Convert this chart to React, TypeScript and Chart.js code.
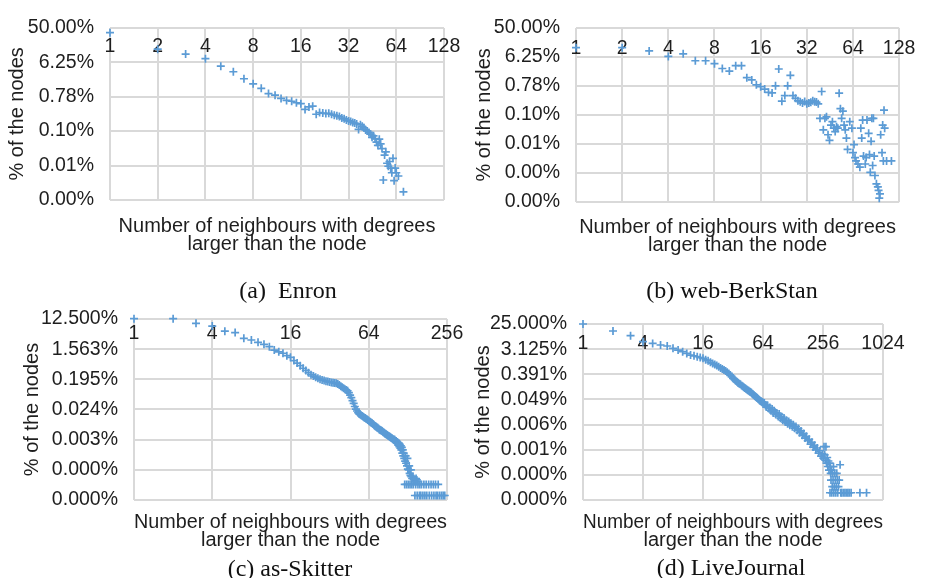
import React, { useEffect, useRef } from "react";
import { Chart, registerables } from "chart.js";

Chart.register(...registerables);

// ---------------- data ----------------
// (a) Enron
const ENRON_X = [1,2,3,4,5,6,7,8,9,10,11,12,13,14,15,16,17,18,19,20,21,22,23,24,25,26,27,28,29,30,31,32,33,34,35,36,37,38,39,40,41,42,43,44,45,46,47,48,49,50,51,52,53,54,55,56,57,58,59,60,61,62,63,64,66,71];
const ENRON_Y = [37,13.7,10.2,7.7,4.9,3.5,2.3,1.69,1.29,0.94,0.85,0.7,0.62,0.59,0.54,0.51,0.36,0.42,0.44,0.27,0.3,0.29,0.28,0.285,0.27,0.255,0.245,0.235,0.215,0.205,0.19,0.18,0.175,0.165,0.159,0.15,0.108,0.144,0.13,0.119,0.105,0.098,0.09,0.081,0.067,0.0735,0.062,0.05,0.041,0.06,0.045,0.034,0.0051,0.023,0.028,0.014,0.0117,0.0156,0.0105,0.0079,0.0189,0.0049,0.0105,0.0079,0.0065,0.0025];

// (b) web-BerkStan
const BERK_X = [1,2,3,4,5,6,7,8,9,10,11,12,13,14,15,16,17,18,19,20,21,22,23,24,25,26,27,28,29,30,31,32,33,34,35,36,37,38,39,40,41,42,43,44,45,46,47,48,49,50,51,52,53,54,55,56,57,58,59,61,63,64,65,66,67,69,71,72,73,74,75,77,78,79,81,82,83,84,85,86,87,88,89,91,93,94,95,96,97,99,100,101,102,103,106,114];
const BERK_Y = [12,12,9.5,6.4,7.7,4.7,4.7,3.8,2.7,2.24,3.3,3.3,1.4,1.19,0.84,0.73,0.62,0.49,0.47,0.78,2.6,0.26,0.387,0.78,1.65,0.387,0.32,0.27,0.25,0.227,0.254,0.215,0.227,0.24,0.27,0.25,0.243,0.215,0.076,0.52,0.0334,0.076,0.085,0.0235,0.0158,0.047,0.06,0.0376,0.0296,0.042,0.0376,0.46,0.152,0.076,0.127,0.047,0.0334,0.0185,0.0082,0.06,0.0376,0.0065,0.0116,0.0046,0.0036,0.0029,0.0023,0.0376,0.0185,0.067,0.0051,0.0029,0.0046,0.067,0.026,0.0057,0.0016,0.0147,0.076,0.0026,0.076,0.0051,0.00127,0.0007,0.00056,0.00044,0.00025,0.00034,0.0235,0.0065,0.047,0.0036,0.136,0.0376,0.0036,0.0036];

// (c) as-Skitter
const SKIT_X = [1,2,3,4,5,6,7,8,9,10,11,12,13,14,15,16,17,18,19,20,21,22,23,24,25,26,27,28,29,30,31,32,33,34,35,36,37,38,39,40,41,42,43,44,45,46,47,48,49,50,51,52,53,54,55,56,57,58,59,60,61,62,63,64,65,66,67,68,69,70,71,72,73,74,75,76,77,78,79,80,81,82,83,84,85,86,87,88,89,90,91,92,93,94,95,96,97,98,99,100,101,102,103,104,105,106,107,108,109,110,111,112,113,114,115,116,117,118,119,120,121,122,123,124,125,126,127,128,129,130,131,132,133,134,135,136,137,138,140,141,142,144,145,146,147,148,150,151,152,153,157,158,161,163,167,170,173,177,179,185,187,193,195,201,203,209,211,217,219,225,233,240,246];
const SKIT_Y = [12.8,12.8,9.3,7.7,5.4,4.9,3.3,2.94,2.5,2.18,1.85,1.47,1.3,1.18,1.0,0.89,0.71,0.6,0.5,0.42,0.36,0.31,0.27,0.245,0.226,0.21,0.195,0.187,0.18,0.172,0.167,0.162,0.158,0.155,0.152,0.149,0.141,0.132,0.122,0.113,0.106,0.099,0.094,0.089,0.078,0.066,0.055,0.045,0.037,0.03,0.025,0.022,0.0195,0.018,0.0172,0.0163,0.0155,0.0148,0.014,0.0135,0.0128,0.0124,0.0118,0.0113,0.0107,0.0104,0.0098,0.0094,0.009,0.0086,0.0079,0.0077,0.0074,0.0071,0.0069,0.0066,0.0062,0.006,0.0058,0.0057,0.0055,0.0053,0.0051,0.0049,0.0047,0.0046,0.0044,0.0043,0.0042,0.004,0.0039,0.0038,0.0037,0.0036,0.0035,0.0034,0.0033,0.0032,0.0031,0.003,0.0031,0.0029,0.0027,0.0028,0.0025,0.0026,0.0023,0.0021,0.0024,0.0019,0.0022,0.0017,0.002,0.0015,0.0018,0.0012,0.0015,0.001,0.0012,0.00084,0.00014,0.0007,0.001,0.0006,0.00014,0.0005,0.00084,0.0004,0.00014,0.00038,0.0005,0.0003,0.00014,0.00026,0.00038,0.00024,0.00014,0.00021,0.00024,0.00014,0.0002,0.00019,0.000065,0.00017,0.00014,0.00021,0.00019,0.000065,0.00017,0.00014,0.000065,0.00014,0.000065,0.00014,0.000065,0.00014,0.000065,0.00014,0.000065,0.00014,0.000065,0.00014,0.000065,0.00014,0.000065,0.00014,0.000065,0.000065,0.00014,0.000065,0.000065,0.000065,0.000065];

// (d) LiveJournal
const LJ_X = [1,2,3,4,5,6,7,8,9,10,11,12,13,14,15,16,17,18,19,20,21,22,23,24,25,26,27,28,29,30,31,32,33,34,35,36,37,38,39,40,41,42,43,44,45,46,47,48,49,50,51,52,53,54,55,56,57,58,59,60,61,62,63,64,66,68,69,71,73,75,77,79,81,83,86,88,91,93,96,98,101,104,107,110,113,116,119,122,126,129,133,137,141,145,149,154,159,164,169,174,180,186,192,198,204,210,217,224,231,238,245,252,258,262,266,270,274,278,282,286,290,294,298,301,304,306,308,311,314,317,320,323,326,329,332,336,340,344,348,352,356,360,366,372,380,386,395,410,425,440,455,470,490,601,700];
const LJ_Y = [25,14,9.5,5.8,5.0,4.4,4.05,3.35,2.9,2.54,2.2,1.92,1.8,1.67,1.55,1.46,1.3,1.2,1.05,0.96,0.88,0.8,0.73,0.66,0.61,0.56,0.51,0.46,0.42,0.37,0.32,0.28,0.26,0.23,0.21,0.19,0.18,0.17,0.155,0.145,0.135,0.125,0.117,0.11,0.105,0.1,0.095,0.09,0.084,0.078,0.073,0.069,0.065,0.061,0.058,0.055,0.052,0.049,0.046,0.043,0.042,0.04,0.039,0.038,0.036,0.03,0.026,0.03,0.023,0.025,0.019,0.022,0.016,0.019,0.014,0.016,0.012,0.0145,0.0102,0.012,0.0087,0.0105,0.0075,0.0088,0.0066,0.0078,0.0058,0.0068,0.0051,0.006,0.0045,0.0052,0.0038,0.0044,0.0031,0.0036,0.0025,0.0029,0.002,0.0023,0.0016,0.0018,0.0012,0.0014,0.00095,0.0011,0.00075,0.00088,0.00058,0.0007,0.00045,0.00055,0.00038,0.00098,0.0005,0.00032,0.00098,0.00025,0.0004,0.00019,0.0003,0.00014,0.00025,0.0000217,0.00019,0.000108,0.000062,0.00014,0.0000217,0.000036,0.000108,0.000062,0.000187,0.0000217,0.000036,0.000108,0.000062,0.0000217,0.000036,0.000108,0.000062,0.0000217,0.000036,0.000062,0.00022,0.0000217,0.0000217,0.0000217,0.0000217,0.0000217,0.0000217,0.0000217,0.0000217,0.0000217,0.0000217];

// ---------------- ticks ----------------
const X_TICKS_AB = [1, 2, 4, 8, 16, 32, 64, 128];
const X_LABELS_AB = ["1", "2", "4", "8", "16", "32", "64", "128"];
const X_TICKS_C = [1, 4, 16, 64, 256];
const X_LABELS_C = ["1", "4", "16", "64", "256"];
const X_TICKS_D = [1, 4, 16, 64, 256, 1024];
const X_LABELS_D = ["1", "4", "16", "64", "256", "1024"];

const Y_TICKS_A = [50, 6.25, 0.78125, 0.09765625, 0.01220703125, 0.00152587890625];
const Y_LABELS_A = ["50.00%", "6.25%", "0.78%", "0.10%", "0.01%", "0.00%"];
const Y_TICKS_B = [50, 6.25, 0.78125, 0.09765625, 0.01220703125, 0.00152587890625, 0.000190734863];
const Y_LABELS_B = ["50.00%", "6.25%", "0.78%", "0.10%", "0.01%", "0.00%", "0.00%"];
const Y_TICKS_C = [12.5, 1.5625, 0.1953125, 0.0244140625, 0.0030517578, 0.0003814697, 0.0000476837];
const Y_LABELS_C = ["12.500%", "1.563%", "0.195%", "0.024%", "0.003%", "0.000%", "0.000%"];
const Y_TICKS_D = [25, 3.125, 0.390625, 0.048828125, 0.0061035156, 0.0007629395, 0.0000953674, 0.0000119209];
const Y_LABELS_D = ["25.000%", "3.125%", "0.391%", "0.049%", "0.006%", "0.001%", "0.000%", "0.000%"];

const X_TITLE = ["Number of neighbours with degrees", "larger than the node"];
const Y_TITLE = "% of the nodes";
const CAPTIONS = ["(a)  Enron", "(b) web-BerkStan", "(c) as-Skitter", "(d) LiveJournal"];

// ---------------- style / layout ----------------
const W = 925;
const H = 578;
const BLUE = "#5b9bd5";
const GRID = "#d9d9d9";
const TEXT = "#1e1e1e";
const SANS = "'Liberation Sans', Arial, Helvetica, sans-serif";
const SERIF = "'Liberation Serif', 'Times New Roman', serif";

type PanelCfg = {
  xs: number[];
  ys: number[];
  xTicks: number[];
  xLabels: string[];
  yTicks: number[];
  yLabels: string[];
  box: { l: number; t: number; r: number; b: number };
  yAxisW: number;
  xPad: number;
  xTitleH: number;
};

const PANELS: PanelCfg[] = [
  { xs: ENRON_X, ys: ENRON_Y, xTicks: X_TICKS_AB, xLabels: X_LABELS_AB, yTicks: Y_TICKS_A, yLabels: Y_LABELS_A, box: { l: 110, t: 21, r: 444, b: 200 }, yAxisW: 104, xPad: 7.6, xTitleH: 54 },
  { xs: BERK_X, ys: BERK_Y, xTicks: X_TICKS_AB, xLabels: X_LABELS_AB, yTicks: Y_TICKS_B, yLabels: Y_LABELS_B, box: { l: 576, t: 24, r: 906, b: 202 }, yAxisW: 103, xPad: 9.6, xTitleH: 53 },
  { xs: SKIT_X, ys: SKIT_Y, xTicks: X_TICKS_C, xLabels: X_LABELS_C, yTicks: Y_TICKS_C, yLabels: Y_LABELS_C, box: { l: 134, t: 319, r: 447, b: 500 }, yAxisW: 113, xPad: 2.6, xTitleH: 50 },
  { xs: LJ_X, ys: LJ_Y, xTicks: X_TICKS_D, xLabels: X_LABELS_D, yTicks: Y_TICKS_D, yLabels: Y_LABELS_D, box: { l: 583, t: 324, r: 883, b: 500 }, yAxisW: 111, xPad: 7.6, xTitleH: 50 },
];

const CAPTION_POS = [
  { x: 288, y: 290 },
  { x: 732, y: 290 },
  { x: 290, y: 568 },
  { x: 731, y: 567 },
];

const TOP_H = 10;

function PanelChart({ cfg }: { cfg: PanelCfg }) {
  const ref = useRef<HTMLCanvasElement | null>(null);
  useEffect(() => {
    const canvas = ref.current;
    if (!canvas) return;
    const { box } = cfg;
    const tickFont = { family: SANS, size: 19.5 };
    const chart = new Chart(canvas, {
      type: "scatter",
      data: {
        datasets: [
          {
            data: cfg.xs.map((x, i) => ({ x, y: cfg.ys[i] })),
            pointStyle: "cross",
            pointRadius: 4,
            pointBorderWidth: 1.7,
            borderColor: BLUE,
            backgroundColor: BLUE,
            showLine: false,
            clip: false as any,
          },
        ],
      },
      options: {
        animation: false,
        responsive: false,
        maintainAspectRatio: false,
        devicePixelRatio: 1,
        events: [],
        layout: {
          padding: {
            left: box.l - cfg.yAxisW,
            top: box.t - TOP_H,
            right: W - box.r,
            bottom: H - box.b - cfg.xTitleH,
          },
        },
        plugins: { legend: { display: false }, tooltip: { enabled: false }, title: { display: false } },
        scales: {
          x: {
            type: "logarithmic",
            position: "top",
            min: cfg.xTicks[0],
            max: cfg.xTicks[cfg.xTicks.length - 1],
            afterBuildTicks: (s: any) => {
              s.ticks = cfg.xTicks.map((v) => ({ value: v }));
            },
            afterFit: (s: any) => {
              s.height = TOP_H;
            },
            grid: { color: GRID, lineWidth: 2, drawTicks: false },
            border: { display: false },
            ticks: {
              mirror: true,
              padding: cfg.xPad,
              font: tickFont,
              color: TEXT,
              autoSkip: false,
              maxRotation: 0,
              minRotation: 0,
              callback: (_v: any, i: number) => cfg.xLabels[i],
            },
          },
          xb: {
            type: "linear",
            position: "bottom",
            afterFit: (s: any) => {
              s.height = cfg.xTitleH;
            },
            grid: { display: false },
            border: { display: false },
            ticks: { display: false },
            title: {
              display: true,
              text: X_TITLE,
              color: TEXT,
              font: { family: SANS, size: 20, lineHeight: 18.5 / 20 },
              padding: 0,
            },
          },
          y: {
            type: "logarithmic",
            position: "left",
            min: cfg.yTicks[cfg.yTicks.length - 1],
            max: cfg.yTicks[0],
            afterBuildTicks: (s: any) => {
              s.ticks = cfg.yTicks.map((v) => ({ value: v }));
            },
            afterFit: (s: any) => {
              s.width = cfg.yAxisW;
            },
            grid: { color: GRID, lineWidth: 2, drawTicks: false },
            border: { display: false },
            ticks: {
              padding: 16,
              font: tickFont,
              color: TEXT,
              autoSkip: false,
              callback: (_v: any, i: number) => cfg.yLabels[i],
            },
            title: {
              display: true,
              text: Y_TITLE,
              color: TEXT,
              font: { family: SANS, size: 20, lineHeight: 1.14 },
              padding: 0,
            },
          },
        },
      } as any,
    });
    return () => chart.destroy();
  }, [cfg]);
  return (
    <canvas
      ref={ref}
      width={W}
      height={H}
      style={{ position: "absolute", left: 0, top: 0, width: W, height: H, pointerEvents: "none" }}
    />
  );
}

export default function App() {
  return (
    <div style={{ position: "absolute", left: 0, top: 0, width: W, height: H, background: "#ffffff", overflow: "hidden" }}>
      {PANELS.map((p, i) => (
        <PanelChart key={i} cfg={p} />
      ))}
      {CAPTIONS.map((c, i) => (
        <div
          key={"cap" + i}
          style={{
            position: "absolute",
            left: CAPTION_POS[i].x,
            top: CAPTION_POS[i].y - 13,
            transform: "translateX(-50%)",
            fontFamily: SERIF,
            fontSize: 24,
            lineHeight: "26px",
            color: "#111",
            whiteSpace: "pre",
          }}
        >
          {c}
        </div>
      ))}
    </div>
  );
}
